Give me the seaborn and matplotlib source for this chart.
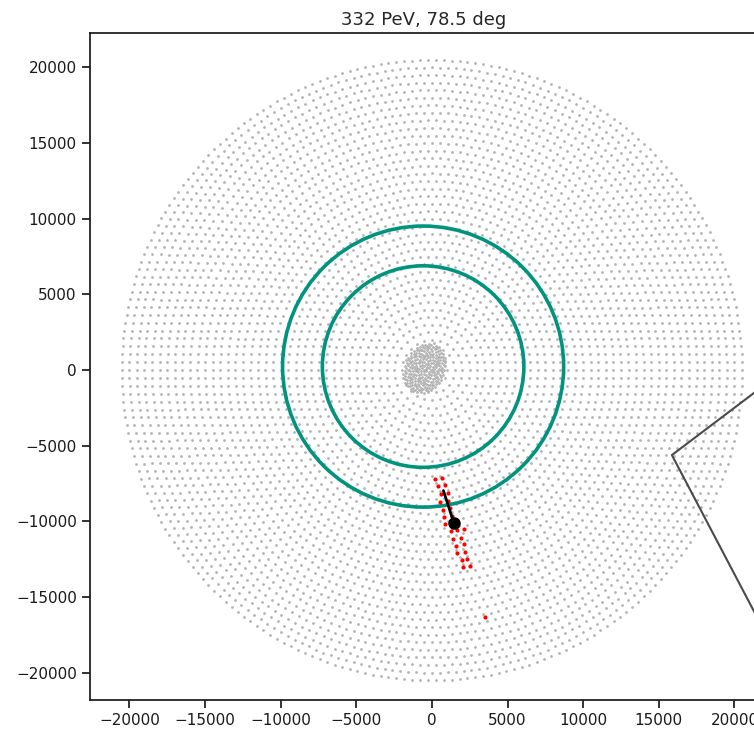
import numpy as np
import pandas as pd
import matplotlib
matplotlib.use("Agg")
import matplotlib.pyplot as plt
from matplotlib.patches import Circle
import seaborn as sns

# ---------------- data ----------------
title = "332 PeV, 78.5 deg"

# antenna layout: concentric rings around the origin
ring_spacing_m = 500.0
n_rings = 41
points_per_ring_step = 6

# dense infill in the centre (sunflower layout)
infill_count = 220
infill_center = [-480.0, 120.0]
infill_semi_axes = [1350.0, 1750.0]
infill_tilt_deg = -25.0

# triggered antennas (red)
triggered_x = [198, 661, 430, 892, 628, 1058, 562, 1091, 727, 1223, 793, 1322, 1586,
               859, 1256, 1653, 2115, 1421, 1917, 1619, 2115, 1653, 2181, 1983, 2314,
               2049, 2545, 3503]
triggered_y = [-7204, -7138, -7667, -7601, -8196, -8130, -8725, -8659, -9221, -9122,
               -9683, -9617, -9981, -10146, -10642, -10543, -10477, -11138, -11072,
               -11601, -11501, -12096, -11997, -12526, -12460, -13022, -12923, -16307]

# reconstructed core and shower direction
core_x = [1454]
core_y = [-10112]
direction_x = [760, 1454]
direction_y = [-7964, -10112]

# teal rings
circle_cx = [-580, -580]
circle_cy = [230, 230]
circle_r = [9290, 6660]

# footprint outline (dark grey)
footprint_x = [26700, 15864, 26700]
footprint_y = [2577, -5619, -26243]

tick_values = [-20000, -15000, -10000, -5000, 0, 5000, 10000, 15000, 20000]
x_limits = [-22600, 21490]
y_limits = [-21810, 22280]

# ---------------- layout of antennas ----------------
ant_x = [0.0]
ant_y = [0.0]
for k in range(1, n_rings + 1):
    n = points_per_ring_step * k
    th = 2 * np.pi * np.arange(n) / n
    ant_x.extend(k * ring_spacing_m * np.cos(th))
    ant_y.extend(k * ring_spacing_m * np.sin(th))

golden = np.pi * (3 - np.sqrt(5))
idx = np.arange(infill_count)
rr = np.sqrt((idx + 0.5) / infill_count)
tt = idx * golden
ux = rr * np.cos(tt) * infill_semi_axes[0]
uy = rr * np.sin(tt) * infill_semi_axes[1]
a = np.deg2rad(infill_tilt_deg)
ix = ux * np.cos(a) - uy * np.sin(a) + infill_center[0]
iy = ux * np.sin(a) + uy * np.cos(a) + infill_center[1]
ant_x.extend(ix)
ant_y.extend(iy)

layout = pd.DataFrame({"x": ant_x, "y": ant_y})
trig = pd.DataFrame({"x": triggered_x, "y": triggered_y})

# ---------------- plot ----------------
sns.set_theme(style="ticks")
plt.rcParams["font.family"] = ["DejaVu Sans"]
plt.rcParams["xtick.labelsize"] = 11
plt.rcParams["ytick.labelsize"] = 11
plt.rcParams["axes.titlesize"] = 13
plt.rcParams["axes.edgecolor"] = "0.1"
plt.rcParams["xtick.color"] = "0.1"
plt.rcParams["ytick.color"] = "0.1"

fig = plt.figure(figsize=(7.54, 7.29), dpi=100)
ax = fig.add_axes([90 / 754, 29 / 729, 667 / 754, 667 / 729])

sns.scatterplot(data=layout, x="x", y="y", s=4, color="0.7", linewidth=0,
                ax=ax, zorder=1, legend=False)

for cx, cy, r in zip(circle_cx, circle_cy, circle_r):
    ax.add_patch(Circle((cx, cy), r, fill=False, edgecolor="#00937d",
                        linewidth=2.6, zorder=2))

sns.scatterplot(data=trig, x="x", y="y", s=9, color="#ff0000", linewidth=0,
                ax=ax, zorder=3, legend=False)

ax.plot(direction_x, direction_y, color="black", linewidth=2.0, zorder=4)
ax.plot(core_x, core_y, "o", color="black", markersize=8, zorder=5)

ax.plot(footprint_x, footprint_y, color="#4a4a4a", linewidth=1.5, zorder=4)

ax.set_xlim(x_limits)
ax.set_ylim(y_limits)
ax.set_xticks(tick_values)
ax.set_yticks(tick_values)
ax.set_xlabel("")
ax.set_ylabel("")
ax.set_title(title)

fig.savefig("out.png", dpi=100)
